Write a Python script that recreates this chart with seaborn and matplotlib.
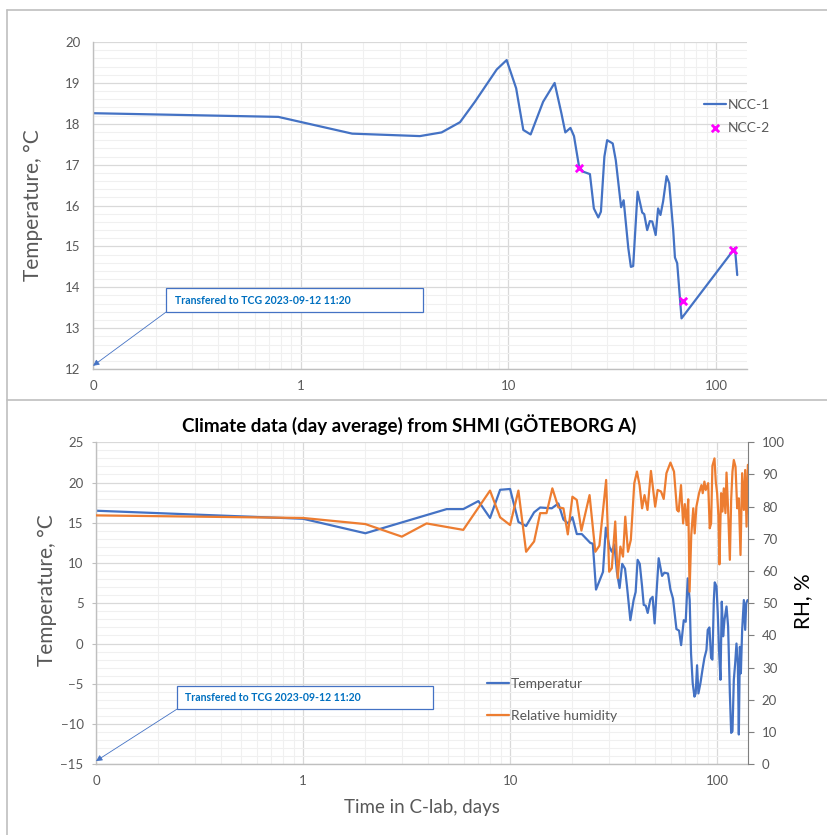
import numpy as np
import pandas as pd
import matplotlib.pyplot as plt
import seaborn as sns
from matplotlib.patches import Rectangle
from matplotlib.lines import Line2D
from matplotlib.ticker import FixedLocator, FixedFormatter, MultipleLocator, LogLocator, NullFormatter

sns.set_style('white')
plt.rcParams['font.family'] = ['Lato', 'DejaVu Sans']

BLUE = '#4472C4'
ORANGE = '#ED7D31'
MAGENTA = '#FF00FF'
TXT = '#595959'

# --- top panel: NCC-1 logger temperature ---
ncc1_days = [0.1, 0.78, 1.77, 3.75, 4.77, 5.85, 6.9, 8.79, 9.81, 10.9, 11.8, 12.8, 14.7, 16.7,
             18.0, 18.8, 19.9, 20.7, 21.9, 22.9, 24.7, 25.8, 27.1, 27.9, 29.0, 29.9, 31.8, 32.9,
             34.9, 35.9, 37.8, 38.9, 39.9, 41.9, 44.1, 45.1, 46.6, 48.0, 49.3, 51.2, 52.6, 54.0,
             55.6, 57.8, 59.5, 62.2, 63.4, 65.0, 68.2, 123.3, 126.5]
ncc1_temp = [18.26, 18.17, 17.76, 17.70, 17.79, 18.04, 18.54, 19.33, 19.56, 18.87, 17.85, 17.74,
             18.54, 19.0, 18.26, 17.79, 17.9, 17.70, 16.95, 16.83, 16.77, 15.93, 15.71, 15.85,
             17.2, 17.6, 17.52, 17.11, 15.96, 16.13, 14.96, 14.5, 14.52, 16.34, 15.83, 15.79,
             15.40, 15.62, 15.61, 15.28, 15.93, 15.77, 16.1, 16.72, 16.55, 15.40, 14.73, 14.59,
             13.24, 14.96, 14.30]
ncc2_days = [21.9, 69.0, 121.0]
ncc2_temp = [16.93, 13.67, 14.91]

# --- bottom panel: SMHI day averages ---
smhi_t_days = [0.1, 1, 2.0, 4.94, 5.94, 7.03, 8.0, 8.95, 10.0, 10.97, 11.95, 13.06, 13.97, 15.9,
               17.1, 18.1, 19.1, 20.0, 21.0, 22.2, 24.4, 25.1, 26.0, 28.1, 29.0, 30.2, 31.0, 31.9,
               32.8, 33.8, 34.8, 35.9, 36.7, 38.1, 39.5, 40.4, 41.3, 42.3, 43.4, 44.2, 45.2, 46.2,
               47.6, 48.8, 49.9, 52.2, 54.2, 55.6, 57.9, 59.5, 61.2, 63.6, 65.5, 67.0, 69.0, 70.5,
               72.1, 73.7, 74.8, 76.2, 77.7, 78.8, 80.0, 81.2, 83.1, 84.9, 86.8, 88.8, 90.1, 91.8,
               93.5, 94.9, 96.4, 97.4, 99.3, 100.7, 102.3, 103.8, 105.3, 106.9, 108.5, 111.0,
               113.0, 115.2, 116.9, 118.6, 120.4, 122.2, 124.0, 125.9, 127.3, 128.8, 130.2, 132.1,
               134.6, 136.6, 138.2, 140.2]
smhi_temp = [16.5, 15.5, 13.7, 16.7, 16.7, 17.7, 15.6, 19.1, 19.2, 15.1, 14.6, 16.3, 16.9, 16.8,
             17.4, 15.4, 14.9, 15.7, 13.6, 13.6, 12.5, 12.4, 6.7, 8.9, 14.4, 12.0, 11.4, 12.3,
             8.9, 6.9, 9.9, 9.3, 7.1, 2.9, 5.4, 6.4, 10.4, 9.9, 7.1, 4.8, 4.7, 3.8,
             5.5, 5.8, 2.5, 10.6, 8.4, 8.8, 8.7, 6.7, 5.6, 1.8, 1.6, -0.2, 2.9, 2.7,
             8.1, 5.4, -1.2, -4.9, -6.6, -6.2, -2.7, -6.2, -4.9, -3.3, -1.8, -0.8, 1.7, 2.0,
             -1.8, -2.0, 5.4, 7.6, 7.1, 3.8, -1.2, -4.5, 5.2, 0.9, 2.9, 4.6,
             2.1, -6.2, -11.1, -10.9, -4.5, -2.5, 0.0, -2.5, -11.3, -0.4, -3.7, 1.7,
             5.4, 1.7, 5.0, 5.4]
smhi_rh_days = [0.1, 1, 2.0, 3.0, 3.95, 5.94, 8.0, 8.95, 10.0, 10.97, 11.95, 13.06, 13.97, 15.0,
                16.0, 17.1, 18.1, 19.0, 20.0, 21.0, 22.1, 24.2, 25.8, 27.0, 29.1, 30.1, 31.0, 32.2,
                33.1, 34.1, 35.1, 36.0, 37.1, 38.3, 39.8, 41.0, 42.2, 43.4, 44.6, 46.1, 47.9, 50.2,
                51.6, 53.6, 55.2, 56.9, 59.5, 61.9, 64.0, 65.2, 66.9, 68.5, 69.8, 71.2, 72.5, 73.6,
                75.0, 76.7, 77.9, 79.4, 81.8, 84.0, 85.2, 86.8, 88.1, 89.4, 90.5, 92.1, 93.5, 94.9,
                97.1, 98.5, 100.0, 101.5, 102.6, 104.5, 106.1, 107.7, 109.7, 111.0, 113.0, 115.2,
                116.9, 118.6, 120.4, 122.7, 125.0, 127.3, 129.7, 132.1, 134.6, 136.6, 138.7, 140.8]
smhi_rh = [77.3, 76.5, 74.6, 70.7, 74.8, 72.8, 85.0, 76.7, 74.3, 85.0, 66.0, 69.2, 78.0, 78.0,
           85.7, 79.8, 79.5, 71.4, 83.1, 82.1, 72.6, 83.6, 66.0, 67.9, 88.3, 59.8, 60.9, 75.4,
           57.8, 67.6, 64.5, 76.9, 66.0, 69.7, 87.3, 90.9, 86.7, 79.5, 83.6, 79.0, 91.1, 80.0,
           85.2, 84.7, 82.4, 90.4, 93.7, 90.9, 79.0, 78.5, 86.7, 74.8, 80.8, 74.3, 82.3, 53.6,
           71.2, 79.5, 71.7, 80.0, 84.2, 86.7, 84.2, 87.8, 85.2, 86.2, 87.3, 73.3, 74.8, 92.7,
           95.0, 87.8, 84.2, 76.9, 62.1, 84.2, 78.5, 85.7, 78.0, 90.6, 79.0, 63.5,
           82.1, 90.9, 94.5, 92.4, 79.5, 82.6, 65.0, 90.4, 79.0, 91.4, 73.8, 93.0]

x_ticks = [0.1, 1, 10, 100]
x_ticklabels = ['0', '1', '10', '100']
note = 'Transfered to TCG 2023-09-12 11:20'


def set_xaxis(ax):
    ax.set_xlim(0.1, 141)
    ax.xaxis.set_major_locator(FixedLocator(x_ticks))
    ax.xaxis.set_major_formatter(FixedFormatter(x_ticklabels))
    ax.xaxis.set_minor_locator(LogLocator(base=10, subs=np.arange(2, 10), numticks=30))
    ax.xaxis.set_minor_formatter(NullFormatter())


def style_axes(ax, ymin, ymax, major, minor):
    ax.set_xscale('log')
    set_xaxis(ax)
    ax.set_ylim(ymin, ymax)
    ax.yaxis.set_major_locator(MultipleLocator(major))
    ax.yaxis.set_minor_locator(MultipleLocator(minor))
    ax.grid(which='major', color='#D9D9D9', lw=0.9)
    ax.grid(which='minor', color='#F0F0F0', lw=0.8)
    ax.set_axisbelow(True)
    for s in ['top', 'right']:
        ax.spines[s].set_visible(False)
    for s in ['left', 'bottom']:
        ax.spines[s].set_color('#BFBFBF')
        ax.spines[s].set_linewidth(1.0)
    ax.tick_params(axis='x', which='both', direction='out', length=3, color='#BFBFBF',
                   labelsize=9.5, labelcolor=TXT, pad=5)
    ax.tick_params(axis='y', which='major', direction='out', length=3, color='#BFBFBF',
                   labelsize=9.5, labelcolor=TXT, pad=6)
    ax.tick_params(axis='y', which='minor', length=0)


def add_note(ax, x0, y0, w, h, tx, target):
    ax.add_patch(Rectangle((x0, y0), w, h, transform=ax.transAxes, fc='white',
                           ec=BLUE, lw=0.9, zorder=5, clip_on=False))
    ax.text(tx, y0 + h / 2, note, transform=ax.transAxes, va='center', ha='left',
            fontsize=7.6, weight='bold', color='#0070C0', zorder=6)
    ax.annotate('', xy=target, xycoords='data', xytext=(x0, y0), textcoords='axes fraction',
                arrowprops=dict(arrowstyle='-|>', color=BLUE, lw=0.6, mutation_scale=9,
                                shrinkA=0, shrinkB=0),
                annotation_clip=False, zorder=4)


fig = plt.figure(figsize=(8.27, 8.35), dpi=100)

# panel frames
for seg in [((7, 7), (10, 835)), ((7, 827), (10, 10)), ((7, 827), (400, 400))]:
    fig.add_artist(Line2D([seg[0][0] / 827, seg[0][1] / 827],
                          [1 - seg[1][0] / 835, 1 - seg[1][1] / 835],
                          color='#BFBFBF', lw=1.2, transform=fig.transFigure))

# ---- top panel ----
ax1 = fig.add_axes([0.1125, 0.558, 0.7908, 0.3916])
style_axes(ax1, 12, 20, 1, 0.2)
sns.lineplot(x=ncc1_days, y=ncc1_temp, ax=ax1, color=BLUE, lw=1.6, sort=False,
             estimator=None, label='NCC-1')
sns.scatterplot(x=ncc2_days, y=ncc2_temp, ax=ax1, color=MAGENTA, marker='x', s=28,
                linewidth=2, label='NCC-2', zorder=5)
set_xaxis(ax1)
ax1.set_ylabel('Temperature, °C', fontsize=15, color=TXT)
ax1.yaxis.set_label_coords(-0.0765, 0.5)
h, l = ax1.get_legend_handles_labels()
ax1.legend(h, l, loc='upper left', bbox_to_anchor=(0.851, 0.882), bbox_transform=fig.transFigure,
           frameon=False, fontsize=10, borderpad=0, borderaxespad=0, handlelength=1.6,
           handletextpad=0.15, labelspacing=0.8, labelcolor=TXT)
add_note(ax1, 0.1116, 0.1743, 0.393, 0.0734, 0.1254, (0.1, 12.08))

# ---- bottom panel ----
ax2 = fig.add_axes([0.1161, 0.0847, 0.7884, 0.3856])
style_axes(ax2, -15, 25, 5, 1)
sns.lineplot(x=smhi_t_days, y=smhi_temp, ax=ax2, color=BLUE, lw=1.6, sort=False,
             estimator=None, label='Temperatur')
ax2r = ax2.twinx()
sns.lineplot(x=smhi_rh_days, y=smhi_rh, ax=ax2r, color=ORANGE, lw=1.6, sort=False,
             estimator=None, label='Relative humidity')
set_xaxis(ax2)
ax2r.set_ylim(0, 100)
ax2r.yaxis.set_major_locator(MultipleLocator(10))
ax2r.grid(False)
for s in ['top', 'left', 'bottom']:
    ax2r.spines[s].set_visible(False)
ax2r.spines['right'].set_color('#7F7F7F')
ax2r.tick_params(axis='y', direction='out', length=4, color='#7F7F7F', labelsize=9.5,
                 labelcolor=TXT, pad=6)
ax2r.set_ylabel('RH, %', fontsize=15, color='black')
ax2r.yaxis.set_label_coords(1.069, 0.505)

ax2.set_ylabel('Temperature, °C', fontsize=15, color=TXT)
ax2.yaxis.set_label_coords(-0.0598, 0.541)
ax2.set_xlabel('Time in C-lab, days', fontsize=13.5, color=TXT)
ax2.xaxis.set_label_coords(0.4995, -0.108)

h1, l1 = ax2.get_legend_handles_labels()
h2, l2 = ax2r.get_legend_handles_labels()
ax2r.get_legend().remove()
ax2r.legend(h1 + h2, l1 + l2, loc='upper left', bbox_to_anchor=(0.5885, 0.188),
            bbox_transform=fig.transFigure, frameon=False, fontsize=10, borderpad=0,
            borderaxespad=0, handlelength=1.6, handletextpad=0.15, labelspacing=1.45,
            labelcolor=TXT)
ax2.get_legend().remove()
add_note(ax2, 0.1238, 0.1708, 0.3926, 0.0733, 0.1365, (0.1, -14.6))

fig.text(409.5 / 827, 1 - 425 / 835, 'Climate data (day average) from SHMI (GÖTEBORG A)',
         ha='center', va='center', fontsize=13.5, weight='bold', color='black')

fig.savefig('out.png', dpi=100)
